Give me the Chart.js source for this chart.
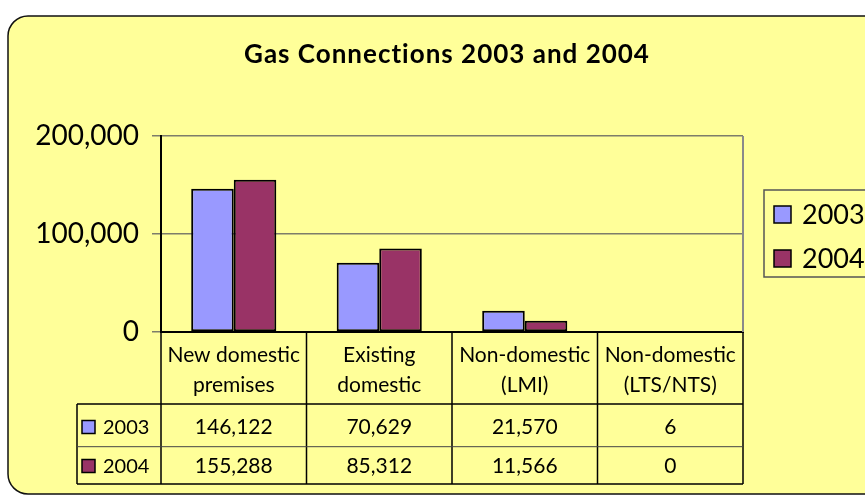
<!DOCTYPE html>
<html>
<head>
<meta charset="utf-8">
<script src="https://cdn.jsdelivr.net/npm/chart.js@4.4.0/dist/chart.umd.min.js"></script>
<style>
html,body{margin:0;padding:0;background:#fff;}
#wrap{width:865px;height:498px;position:relative;}
</style>
</head>
<body>
<div id="wrap"><canvas id="c" width="865" height="498"></canvas></div>
<script>
const chartTitle = 'Gas Connections 2003 and 2004';
const categories = [['New domestic','premises'],['Existing','domestic'],['Non-domestic','(LMI)'],['Non-domestic','(LTS/NTS)']];
const seriesNames = ['2003','2004'];
const values2003 = [146122, 70629, 21570, 6];
const values2004 = [155288, 85312, 11566, 0];
const yTicks = [0, 100000, 200000];

const colors = ['#9999FF', '#993366'];
const FONT = 'Lato, "Open Sans", "DejaVu Sans", sans-serif';
const fmt = v => Number(v).toLocaleString('en-US');

const decor = {
  id: 'decor',
  beforeDraw(chart) {
    const ctx = chart.ctx;
    ctx.save();
    ctx.fillStyle = '#fff';
    ctx.fillRect(0, 0, chart.width, chart.height);
    const x = 8, y = 16, w = 900, h = 478, r = 20;
    ctx.beginPath();
    ctx.moveTo(x + r, y);
    ctx.lineTo(x + w, y);
    ctx.lineTo(x + w, y + h);
    ctx.lineTo(x + r, y + h);
    ctx.arcTo(x, y + h, x, y + h - r, r);
    ctx.lineTo(x, y + r);
    ctx.arcTo(x, y, x + r, y, r);
    ctx.closePath();
    ctx.fillStyle = '#FFFF99';
    ctx.fill();
    ctx.lineWidth = 1.5;
    ctx.strokeStyle = '#111';
    ctx.stroke();
    ctx.restore();
  },
  afterDraw(chart) {
    const ctx = chart.ctx;
    const xs = chart.scales.x;
    const ca = chart.chartArea;
    ctx.save();
    ctx.fillStyle = '#000';
    ctx.font = 'bold 26px ' + FONT;
    ctx.letterSpacing = '1px';
    ctx.textAlign = 'center';
    ctx.textBaseline = 'middle';
    ctx.fillText(chartTitle, 447, 55);
    ctx.letterSpacing = '0px';

    ctx.strokeStyle = '#8a8a8a';
    ctx.lineWidth = 2;
    ctx.beginPath();
    ctx.moveTo(ca.right, ca.top);
    ctx.lineTo(ca.right, ca.bottom);
    ctx.stroke();

    const n = categories.length;
    const catW = (ca.right - ca.left) / n;
    const yHead = ca.bottom, yR1 = 404, yR2 = 446.7, yEnd = 484;
    const tLeft = 77;
    ctx.strokeStyle = '#000';
    ctx.lineWidth = 1.5;
    ctx.beginPath();
    for (let i = 0; i <= n; i++) {
      const xx = (i < n ? xs.getPixelForValue(i) - catW / 2 : xs.getPixelForValue(n - 1) + catW / 2);
      ctx.moveTo(xx, yHead);
      ctx.lineTo(xx, yEnd);
    }
    ctx.moveTo(tLeft, yR1); ctx.lineTo(ca.right, yR1);
    ctx.moveTo(tLeft, yEnd); ctx.lineTo(ca.right, yEnd);
    ctx.moveTo(tLeft, yR1); ctx.lineTo(tLeft, yEnd);
    ctx.stroke();
    ctx.strokeStyle = '#444';
    ctx.lineWidth = 1;
    ctx.beginPath();
    ctx.moveTo(tLeft, yR2); ctx.lineTo(ca.right, yR2);
    ctx.stroke();

    ctx.fillStyle = '#000';
    ctx.font = '21px ' + FONT;
    ctx.textAlign = 'center';
    ctx.textBaseline = 'middle';
    categories.forEach((lab, i) => {
      const cx = xs.getPixelForValue(i);
      ctx.fillText(lab[0], cx, 355);
      ctx.fillText(lab[1], cx, 385);
    });
    const rows = [values2003, values2004];
    const rowY = [427, 466];
    ctx.font = '21px ' + FONT;
    rows.forEach((vals, r) => {
      vals.forEach((v, i) => {
        ctx.fillText(fmt(v), xs.getPixelForValue(i), rowY[r]);
      });
    });
    ctx.font = '20px ' + FONT;
    rows.forEach((vals, r) => {
      ctx.fillStyle = colors[r];
      ctx.fillRect(82, rowY[r] - 6.5, 13, 13);
      ctx.strokeStyle = '#000';
      ctx.lineWidth = 1.5;
      ctx.strokeRect(82, rowY[r] - 6.5, 13, 13);
      ctx.fillStyle = '#000';
      ctx.textAlign = 'left';
      ctx.fillText(seriesNames[r], 103, rowY[r] + 1);
    });

    ctx.fillStyle = '#FFFF99';
    ctx.strokeStyle = '#555';
    ctx.lineWidth = 1.5;
    ctx.fillRect(764, 190, 120, 87);
    ctx.strokeRect(764, 190, 120, 87);
    const legY = [214, 258];
    ctx.font = '27px ' + FONT;
    ctx.textAlign = 'left';
    ctx.textBaseline = 'middle';
    seriesNames.forEach((s, r) => {
      ctx.fillStyle = colors[r];
      ctx.fillRect(774, legY[r] - 8, 17, 17);
      ctx.strokeStyle = '#000';
      ctx.lineWidth = 1.5;
      ctx.strokeRect(774, legY[r] - 8, 17, 17);
      ctx.fillStyle = '#000';
      ctx.fillText(s, 802, legY[r] + 1);
    });
    ctx.restore();
  }
};

new Chart(document.getElementById('c'), {
  type: 'bar',
  data: {
    labels: categories.map(c => c.join(' ')),
    datasets: [
      { label: seriesNames[0], data: values2003, backgroundColor: colors[0], borderColor: '#000', borderWidth: 2, borderSkipped: false },
      { label: seriesNames[1], data: values2004, backgroundColor: colors[1], borderColor: '#000', borderWidth: 2, borderSkipped: false }
    ]
  },
  options: {
    responsive: false,
    devicePixelRatio: 1,
    animation: false,
    events: [],
    layout: { padding: { left: 0, top: 136, right: 122, bottom: 166 } },
    categoryPercentage: 0.585,
    barPercentage: 1.0,
    plugins: { legend: { display: false }, title: { display: false }, tooltip: { enabled: false } },
    scales: {
      x: {
        grid: { display: false, drawTicks: false },
        border: { color: '#000', width: 2 },
        ticks: { display: false },
        afterFit(s) { s.height = 0; }
      },
      y: {
        min: 0, max: 200000,
        afterBuildTicks(s) { s.ticks = yTicks.map(v => ({ value: v })); },
        afterFit(s) { s.width = 161; },
        grid: { color: '#7d7d6a', lineWidth: 1.5, tickLength: 9 },
        border: { color: '#000', width: 2 },
        ticks: { color: '#000', font: { family: FONT, size: 28 }, padding: 13, callback: v => fmt(v) }
      }
    }
  },
  plugins: [decor]
});
</script>
</body>
</html>
